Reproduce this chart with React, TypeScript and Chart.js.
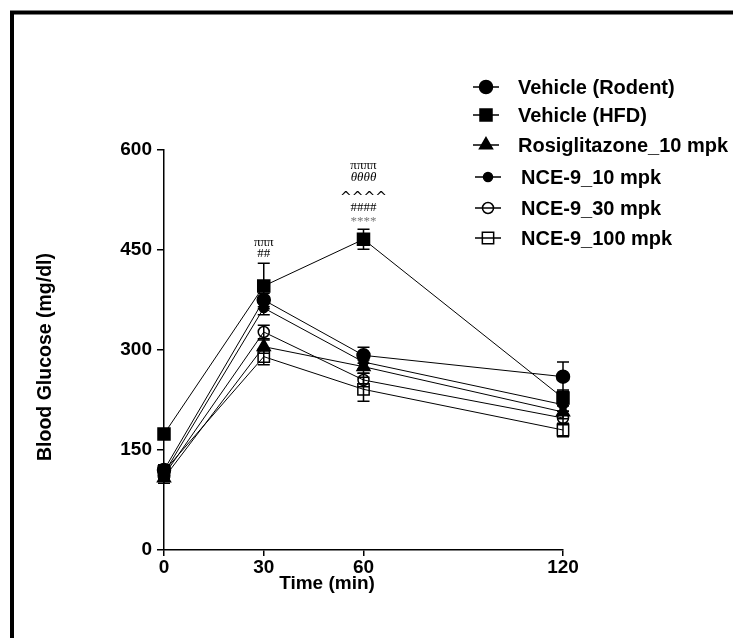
import React, { useEffect, useRef } from 'react';
import { Chart, registerables } from 'chart.js';
import { drawPoint } from 'chart.js/helpers';

Chart.register(...registerables);

// ---- data ----
const timePoints = [0, 30, 60, 120];
const xTickValues = [0, 30, 60, 120];
const yTickValues = [0, 150, 300, 450, 600];
const seriesNames = [
  'Vehicle (Rodent)',
  'Vehicle (HFD)',
  'Rosiglitazone_10 mpk',
  'NCE-9_10 mpk',
  'NCE-9_30 mpk',
  'NCE-9_100 mpk',
];
const vehicleRodent = [120, 375, 292, 260];
const vehicleHFD = [174, 396, 466, 228];
const rosiglitazone10 = [108, 305, 275, 207];
const nce9_10 = [115, 363, 282, 218];
const nce9_30 = [112, 327, 255, 198];
const nce9_100 = [118, 290, 241, 180];

const vehicleRodentErr = [8, 10, 12, 22];
const vehicleHFDErr = [8, 34, 15, 12];
const rosiglitazone10Err = [8, 10, 10, 10];
const nce9_10Err = [8, 10, 10, 10];
const nce9_30Err = [8, 10, 10, 10];
const nce9_100Err = [8, 12, 18, 10];

const annot30 = ['πππ', '##'];
const annot60 = ['ππππ', 'θθθθ', '^^^^', '####', '****'];

const yTitle = 'Blood Glucose (mg/dl)';
const xTitle = 'Time (min)';

const FONT = '"Liberation Sans", Arial, Helvetica, sans-serif';

const seriesValues = [vehicleRodent, vehicleHFD, rosiglitazone10, nce9_10, nce9_30, nce9_100];
const seriesErrors = [vehicleRodentErr, vehicleHFDErr, rosiglitazone10Err, nce9_10Err, nce9_30Err, nce9_100Err];
const seriesStyles = [
  { pointStyle: 'circle', radius: 6.5, fill: '#000' },
  { pointStyle: 'rect', radius: 8.5, fill: '#000' },
  { pointStyle: 'triangle', radius: 7.5, fill: '#000' },
  { pointStyle: 'circle', radius: 4.5, fill: '#000' },
  { pointStyle: 'circle', radius: 5.5, fill: 'rgba(0,0,0,0)' },
  { pointStyle: 'rect', radius: 8, fill: 'rgba(0,0,0,0)' },
];

const legendY = [87, 115, 145, 177, 208, 238];
const legendMarkerX = [486, 486, 486, 488, 488, 488];
const legendTextX = [518, 518, 518, 521, 521, 521];

const overlayPlugin = {
  id: 'overlay',
  beforeDraw(chart: any) {
    const ctx = chart.ctx;
    ctx.save();
    ctx.fillStyle = '#fff';
    ctx.fillRect(0, 0, chart.width, chart.height);
    ctx.strokeStyle = '#000';
    ctx.lineWidth = 4;
    ctx.beginPath();
    ctx.moveTo(12, chart.height + 2);
    ctx.lineTo(12, 12.5);
    ctx.lineTo(chart.width + 2, 12.5);
    ctx.stroke();
    ctx.restore();
  },
  afterDatasetsDraw(chart: any) {
    const ctx = chart.ctx;
    const xs = chart.scales.x;
    const ys = chart.scales.y;
    ctx.save();
    // error bars
    ctx.strokeStyle = '#000';
    ctx.lineWidth = 1.5;
    seriesValues.forEach((vals, si) => {
      const errs = seriesErrors[si];
      vals.forEach((v, i) => {
        const px = xs.getPixelForValue(timePoints[i]);
        const top = ys.getPixelForValue(v + errs[i]);
        const bot = ys.getPixelForValue(v - errs[i]);
        ctx.beginPath();
        ctx.moveTo(px, top);
        ctx.lineTo(px, bot);
        ctx.moveTo(px - 6, top);
        ctx.lineTo(px + 6, top);
        ctx.moveTo(px - 6, bot);
        ctx.lineTo(px + 6, bot);
        ctx.stroke();
      });
    });

    // significance annotations above HFD
    ctx.textAlign = 'center';
    ctx.textBaseline = 'middle';
    const hx30 = xs.getPixelForValue(30);
    const ht30 = ys.getPixelForValue(vehicleHFD[1] + vehicleHFDErr[1]);
    const off30 = [-21, -10];
    annot30.forEach((t, i) => {
      ctx.fillStyle = '#000';
      ctx.font = `13px "Liberation Serif", serif`;
      ctx.fillText(t, hx30, ht30 + off30[i]);
    });
    const hx60 = xs.getPixelForValue(60);
    const ht60 = ys.getPixelForValue(vehicleHFD[2] + vehicleHFDErr[2]);
    const off60 = [-64, -52, -34, -22, -8];
    annot60.forEach((t, i) => {
      ctx.fillStyle = i === 4 ? '#777' : '#000';
      ctx.font = i === 1 ? `italic 13px "Liberation Serif", serif` : i === 2 ? `14px "DejaVu Sans", sans-serif` : `13px "Liberation Serif", serif`;
      ctx.fillText(t, hx60, ht60 + off60[i] + (i === 2 ? 3 : 0));
    });

    // axis titles
    ctx.fillStyle = '#000';
    ctx.font = `bold 19px ${FONT}`;
    ctx.fillText(xTitle, 327, 584);
    ctx.save();
    ctx.translate(46, 357);
    ctx.rotate(-Math.PI / 2);
    ctx.font = `bold 19.5px ${FONT}`;
    ctx.fillText(yTitle, 0, 0);
    ctx.restore();

    // legend
    seriesNames.forEach((name, i) => {
      const y = legendY[i];
      const mx = legendMarkerX[i];
      ctx.strokeStyle = '#000';
      ctx.lineWidth = 1.5;
      ctx.beginPath();
      ctx.moveTo(mx - 13, y);
      ctx.lineTo(mx + 13, y);
      ctx.stroke();
      const st = seriesStyles[i];
      ctx.fillStyle = st.fill;
      ctx.strokeStyle = '#000';
      ctx.lineWidth = 1.5;
      drawPoint(ctx, { pointStyle: st.pointStyle as any, radius: st.radius, borderWidth: 1.5, rotation: 0 } as any, mx, y);
      ctx.fillStyle = '#000';
      ctx.textAlign = 'left';
      ctx.font = `bold 20px ${FONT}`;
      ctx.fillText(name, legendTextX[i], y + 1);
    });
    ctx.restore();
  },
};

export default function App() {
  const ref = useRef<HTMLCanvasElement | null>(null);
  useEffect(() => {
    document.body.style.margin = '0';
    const canvas = ref.current;
    if (!canvas) return;
    const datasets = seriesNames.map((name, i) => ({
      label: name,
      data: timePoints.map((t, j) => ({ x: t, y: seriesValues[i][j] })),
      borderColor: '#000',
      borderWidth: 1,
      backgroundColor: seriesStyles[i].fill,
      pointStyle: seriesStyles[i].pointStyle as any,
      pointRadius: seriesStyles[i].radius,
      pointBackgroundColor: seriesStyles[i].fill,
      pointBorderColor: '#000',
      pointBorderWidth: 1.5,
      tension: 0,
      fill: false,
      clip: false as any,
    }));
    const chart = new Chart(canvas, {
      type: 'line',
      data: { datasets },
      options: {
        responsive: false,
        animation: false,
        devicePixelRatio: 1,
        layout: { padding: { top: 150, right: 170, bottom: 48, left: 0 } },
        plugins: { legend: { display: false }, tooltip: { enabled: false }, title: { display: false } },
        scales: {
          x: {
            type: 'linear',
            min: 0,
            max: 120,
            afterBuildTicks: (s: any) => { s.ticks = xTickValues.map((v) => ({ value: v })); },
            afterFit: (s: any) => { s.height = 40; },
            grid: { drawOnChartArea: false, drawTicks: true, tickLength: 6, color: '#000', lineWidth: 1.5 },
            border: { display: true, color: '#000', width: 1.5 },
            ticks: { color: '#000', font: { family: FONT, size: 19, weight: 'bold' }, padding: 0, maxRotation: 0, autoSkip: false },
          },
          y: {
            type: 'linear',
            min: 0,
            max: 600,
            afterBuildTicks: (s: any) => { s.ticks = yTickValues.map((v) => ({ value: v })); },
            afterFit: (s: any) => { s.width = 164; },
            grid: { drawOnChartArea: false, drawTicks: true, tickLength: 7, color: '#000', lineWidth: 1.5 },
            border: { display: true, color: '#000', width: 1.5 },
            ticks: { color: '#000', font: { family: FONT, size: 19, weight: 'bold' }, padding: 5, autoSkip: false },
          },
        },
      } as any,
      plugins: [overlayPlugin],
    });
    return () => chart.destroy();
  }, []);
  return (
    <div style={{ width: 733, height: 638 }}>
      <canvas ref={ref} width={733} height={638} style={{ display: 'block' }} />
    </div>
  );
}
